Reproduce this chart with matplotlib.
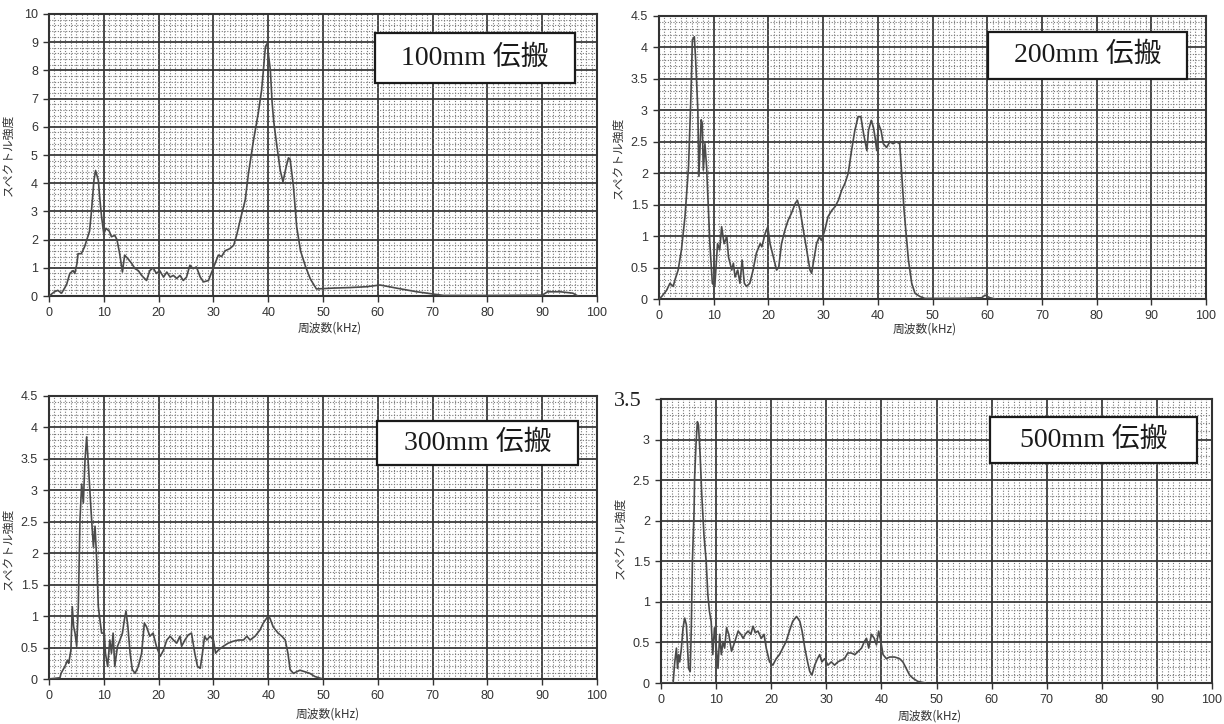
import numpy as np
import matplotlib
matplotlib.use("Agg")
import matplotlib.pyplot as plt
from matplotlib.patches import Rectangle
from matplotlib.ticker import MultipleLocator, FuncFormatter

plt.rcParams['font.family'] = ['Liberation Sans', 'Noto Sans CJK JP', 'DejaVu Sans']

# ---------------- data ----------------
freq_100 = [0, 1.0, 1.6, 2.3, 3.2, 3.8, 4.4, 4.7, 5.1, 5.3, 5.9, 6.5, 7.4, 7.7, 8.2, 8.5, 9.0, 9.3, 9.6,
            10.0, 10.4, 11.0, 11.4, 12.0, 12.4, 12.9, 13.4, 13.8, 14.5, 15.1, 15.7, 16.3, 16.9, 17.8,
            18.4, 19.0, 19.6, 20.2, 20.9, 21.5, 22.1, 22.7, 23.3, 23.9, 24.5, 25.1, 25.7, 26.3, 26.9,
            27.6, 28.2, 29.1, 29.7, 30.3, 30.9, 31.5, 32.1, 33.0, 33.7, 34.3, 34.9, 35.8, 36.4, 37.3,
            38.2, 38.8, 39.5, 39.8, 40.4, 40.7, 41.0, 41.6, 42.2, 42.7, 43.3, 43.7, 44.0, 44.6, 45.2,
            45.9, 46.8, 47.7, 48.8, 51.8, 55.0, 58.0, 60.4, 63.4, 67.1, 70.1, 72.0, 80.0, 90.0, 91.0,
            93.3, 95.6, 96.5]
amp_100 = [0, 0.15, 0.2, 0.1, 0.4, 0.8, 0.9, 0.8, 1.15, 1.5, 1.5, 1.75, 2.3, 2.9, 4.1, 4.45, 4.1, 3.4, 2.8,
           2.2, 2.4, 2.3, 2.1, 2.15, 2.0, 1.5, 0.85, 1.45, 1.3, 1.15, 0.97, 0.9, 0.73, 0.55,
           0.9, 1.0, 0.8, 0.9, 0.67, 0.85, 0.67, 0.73, 0.62, 0.73, 0.55, 0.67, 1.09, 0.97, 1.03,
           0.67, 0.5, 0.55, 0.85, 1.15, 1.45, 1.4, 1.6, 1.68, 1.8, 2.2, 2.7, 3.4, 4.35, 5.5,
           6.5, 7.3, 8.85, 8.95, 8.0, 6.9, 6.2, 5.3, 4.45, 4.05, 4.6, 4.9, 4.85, 3.9, 2.45,
           1.6, 1.05, 0.6, 0.25, 0.28, 0.3, 0.33, 0.39, 0.28, 0.15, 0.07, 0.02, 0.02, 0.03, 0.15,
           0.15, 0.1, 0.0]

freq_200 = [0, 0.5, 1.4, 2.0, 2.6, 2.9, 3.5, 4.1, 4.75, 5.4, 5.85, 6.1, 6.46, 6.7, 7.1, 7.3, 7.7, 7.9,
            8.1, 8.4, 8.7, 9.3, 9.75, 10.2, 10.7, 11.1, 11.45, 11.9, 12.4, 12.7, 13.3, 13.6, 13.9,
            14.4, 14.8, 15.2, 15.6, 16.0, 16.6, 17.2, 17.8, 18.5, 18.8, 19.4, 19.9, 20.3, 20.9, 21.5,
            21.9, 22.4, 23.0, 23.6, 24.2, 24.9, 25.3, 25.8, 26.4, 27.0, 27.6, 27.9, 28.4, 28.8, 29.3,
            29.7, 30.3, 30.9, 31.6, 32.2, 32.8, 33.4, 34.0, 34.6, 35.2, 35.8, 36.4, 36.9, 37.4, 38.0,
            38.3, 38.8, 39.2, 39.5, 39.8, 40.1, 40.6, 41.0, 41.6, 42.2, 42.8, 43.4, 44.0, 44.4, 44.8,
            45.6, 46.2, 46.8, 47.7, 48.6, 55.0, 59.0, 59.6, 60.5, 61.5]
amp_200 = [0, 0.04, 0.14, 0.25, 0.2, 0.3, 0.46, 0.78, 1.31, 2.1, 3.27, 4.12, 4.17, 3.8, 3.0, 1.95, 2.85, 2.8,
           2.05, 2.47, 2.1, 0.88, 0.25, 0.2, 0.88, 0.78, 1.15, 0.88, 0.99, 0.67, 0.46, 0.57, 0.35,
           0.46, 0.25, 0.62, 0.25, 0.2, 0.25, 0.46, 0.73, 0.88, 0.83, 1.04, 1.15, 0.88, 0.67, 0.46,
           0.51, 0.88, 1.09, 1.25, 1.36, 1.52, 1.57, 1.41, 1.09, 0.78, 0.46, 0.41, 0.67, 0.88, 0.99,
           0.93, 1.09, 1.31, 1.41, 1.47, 1.57, 1.73, 1.84, 2.0, 2.36, 2.68, 2.9, 2.9, 2.63, 2.36,
           2.68, 2.84, 2.73, 2.57, 2.36, 2.79, 2.68, 2.47, 2.41, 2.5, 2.47, 2.5, 2.47, 1.95, 1.41,
           0.62, 0.25, 0.09, 0.04, 0.01, 0.01, 0.02, 0.06, 0.02, 0.0]

freq_300 = [0, 2.0, 2.2, 2.9, 3.4, 3.6, 4.0, 4.25, 4.5, 4.75, 5.05, 5.35, 5.65, 5.96, 6.27, 6.57, 6.87,
            7.2, 7.7, 8.1, 8.4, 8.7, 9.0, 9.3, 9.6, 10.1, 10.3, 10.7, 11.1, 11.4, 11.7, 12.0, 12.5,
            12.95, 13.4, 13.75, 14.05, 14.4, 14.8, 15.2, 15.7, 16.3, 16.9, 17.4, 17.8, 18.4, 19.0,
            19.6, 20.3, 20.9, 21.5, 22.1, 22.7, 23.3, 23.9, 24.2, 24.8, 25.4, 26.0, 26.6, 27.1, 27.6,
            28.0, 28.4, 28.8, 29.4, 30.0, 30.4, 30.9, 31.8, 32.7, 33.6, 34.6, 35.5, 36.1, 36.7, 37.6,
            38.5, 39.1, 39.9, 40.3, 40.9, 41.8, 42.5, 43.1, 43.6, 44.0, 44.6, 45.8, 47.6, 48.5, 50.0]
amp_300 = [0, 0.02, 0.09, 0.2, 0.3, 0.25, 0.46, 1.15, 0.83, 0.73, 0.52, 1.15, 2.53, 3.1, 2.8, 3.48, 3.85,
           3.38, 2.64, 2.1, 2.43, 1.9, 1.15, 0.94, 0.73, 0.73, 0.41, 0.2, 0.62, 0.41, 0.73, 0.2, 0.52,
           0.62, 0.73, 0.94, 1.08, 0.83, 0.41, 0.15, 0.09, 0.2, 0.41, 0.89, 0.83, 0.68, 0.73,
           0.52, 0.36, 0.46, 0.62, 0.68, 0.62, 0.57, 0.68, 0.52, 0.62, 0.7, 0.73, 0.41, 0.2, 0.17,
           0.41, 0.68, 0.62, 0.68, 0.62, 0.41, 0.46, 0.52, 0.57, 0.6, 0.62, 0.62, 0.68, 0.62, 0.68,
           0.78, 0.89, 0.99, 0.97, 0.83, 0.73, 0.68, 0.62, 0.41, 0.15, 0.09, 0.14, 0.09, 0.04, 0.0]

freq_500 = [0, 2.2, 2.5, 2.8, 3.0, 3.2, 3.4, 3.7, 4.0, 4.3, 4.6, 4.8, 5.0, 5.3, 5.5, 5.7, 6.0, 6.1, 6.35,
            6.6, 6.8, 7.1, 7.4, 7.8, 8.2, 8.5, 8.8, 9.1, 9.4, 9.7, 10.0, 10.35, 10.65, 10.95, 11.25,
            11.55, 11.9, 12.3, 12.8, 13.4, 14.0, 14.5, 14.9, 15.3, 15.8, 16.3, 16.7, 17.1, 17.6, 18.2,
            18.7, 19.1, 19.7, 20.3, 20.9, 21.5, 22.1, 22.7, 23.3, 23.9, 24.6, 25.2, 25.6, 26.1, 26.6,
            27.0, 27.4, 27.9, 28.4, 28.8, 29.2, 29.7, 30.3, 30.9, 31.5, 32.1, 32.7, 33.3, 33.9, 34.5,
            35.2, 35.8, 36.4, 36.9, 37.3, 37.7, 38.2, 38.7, 39.1, 39.5, 39.9, 40.3, 40.9, 41.5, 42.4,
            43.3, 43.9, 44.5, 45.1, 45.7, 46.6, 48.0]
amp_500 = [0, 0.0, 0.26, 0.43, 0.18, 0.35, 0.26, 0.43, 0.68, 0.8, 0.72, 0.47, 0.18, 0.14, 0.68, 1.5, 2.12,
           2.53, 2.94, 3.22, 3.18, 2.81, 2.32, 1.82, 1.5, 1.09, 0.88, 0.76, 0.35, 0.68, 0.47, 0.18,
           0.6, 0.35, 0.51, 0.43, 0.68, 0.6, 0.39, 0.51, 0.64, 0.6, 0.55, 0.6, 0.64, 0.6, 0.7, 0.62,
           0.64, 0.55, 0.6, 0.43, 0.26, 0.22, 0.3, 0.35, 0.43, 0.51, 0.64, 0.76, 0.82, 0.76, 0.64,
           0.43, 0.26, 0.14, 0.1, 0.22, 0.3, 0.35, 0.26, 0.3, 0.22, 0.26, 0.22, 0.26, 0.28, 0.3, 0.37,
           0.37, 0.35, 0.39, 0.43, 0.51, 0.55, 0.43, 0.6, 0.55, 0.47, 0.64, 0.51, 0.35, 0.3, 0.32,
           0.32, 0.3, 0.26, 0.18, 0.1, 0.06, 0.02, 0.0]

labels = ["100mm 伝搬", "200mm 伝搬", "300mm 伝搬", "500mm 伝搬"]
xlabel_text = "周波数(kHz)"
ylabel_text = "スペクトル強度"

# ---------------- layout ----------------
W, H = 1224, 724
fig = plt.figure(figsize=(W / 100, H / 100), dpi=100)
fig.patch.set_facecolor("white")


def rect(l, t, r, b):
    return [l / W, 1 - b / H, (r - l) / W, (b - t) / H]


def fmt(v, pos):
    s = ("%.1f" % v).rstrip("0").rstrip(".")
    return s


panels = [
    dict(r=rect(49, 14, 597, 296), x=freq_100, y=amp_100, ymax=10, ymaj=1, ymin=0.2,
         box=(375, 33, 575, 83), ylc=(-0.062, 0.5), xlc=(0.513, -0.09)),
    dict(r=rect(659, 16, 1206, 299), x=freq_200, y=amp_200, ymax=4.5, ymaj=0.5, ymin=0.1,
         box=(988, 32, 1187, 79), ylc=(-0.062, 0.5), xlc=(0.486, -0.082)),
    dict(r=rect(49, 396, 597, 679), x=freq_300, y=amp_300, ymax=4.5, ymaj=0.5, ymin=0.1,
         box=(377, 421, 578, 465), ylc=(-0.062, 0.46), xlc=(0.509, -0.1)),
    dict(r=rect(661, 399, 1212, 683), x=freq_500, y=amp_500, ymax=3.5, ymaj=0.5, ymin=0.1,
         box=(990, 417, 1197, 463), ylc=(-0.062, 0.51), xlc=(0.488, -0.092)),
]

for i, p in enumerate(panels):
    ax = fig.add_axes(p["r"])
    ax.set_xlim(0, 100)
    ax.set_ylim(0, p["ymax"])
    ax.xaxis.set_major_locator(MultipleLocator(10))
    ax.xaxis.set_minor_locator(MultipleLocator(1))
    ax.yaxis.set_major_locator(MultipleLocator(p["ymaj"]))
    ax.yaxis.set_minor_locator(MultipleLocator(p["ymin"]))
    ax.grid(which="minor", linestyle=(0, (1, 1.5)), color="#7a7a7a", linewidth=0.8)
    ax.grid(which="major", linestyle="-", color="#3a3a3a", linewidth=1.3)
    ax.set_axisbelow(True)
    ax.plot(p["x"], p["y"], color="#4a4a4a", linewidth=1.2, zorder=3)
    for s in ax.spines.values():
        s.set_color("#333333")
        s.set_linewidth(1.5)
    ax.tick_params(which="major", direction="out", length=4, width=1.0, color="#333333",
                   labelsize=9, labelcolor="#333333", pad=4)
    ax.tick_params(which="minor", length=0)
    if i == 3:
        ax.yaxis.set_major_formatter(FuncFormatter(lambda v, pos: "" if v > 3.01 else fmt(v, pos)))
        ax.text(-0.06, 0.99, "3.5", transform=ax.transAxes, ha="center", va="center",
                fontsize=16, family=["Liberation Serif"], color="#222222")
    else:
        ax.yaxis.set_major_formatter(FuncFormatter(fmt))
    ax.set_ylabel(ylabel_text, fontsize=8.5, color="#333333",
                  family=["Noto Sans CJK JP", "DejaVu Sans"])
    ax.yaxis.set_label_coords(*p["ylc"])
    ax.set_xlabel(xlabel_text, fontsize=8.5, color="#333333",
                  family=["Noto Sans CJK JP", "DejaVu Sans"])
    ax.xaxis.set_label_coords(*p["xlc"])

    l, t, r, b = p["box"]
    fig.add_artist(Rectangle((l / W, 1 - b / H), (r - l) / W, (b - t) / H,
                             transform=fig.transFigure, facecolor="white",
                             edgecolor="#1a1a1a", linewidth=1.6, zorder=5))
    fig.text((l + r) / 2 / W, 1 - (t + b) / 2 / H, labels[i], ha="center", va="center",
             fontsize=20, family=["Liberation Serif", "Noto Sans CJK JP"], color="#1a1a1a",
             zorder=6)

fig.savefig("out.png", dpi=100, facecolor="white")
